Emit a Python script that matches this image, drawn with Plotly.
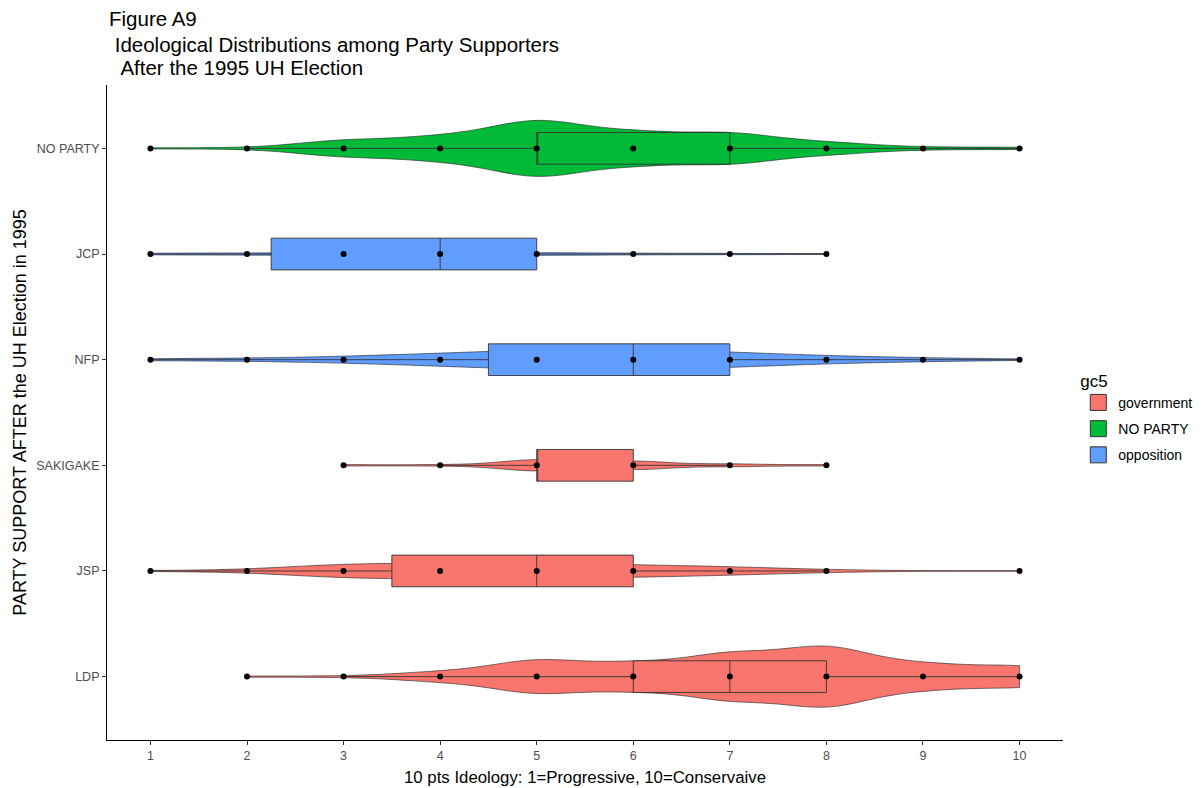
import numpy as np
import plotly.graph_objects as go

# ---------------- data ----------------
ideology = [1, 2, 3, 4, 5, 6, 7, 8, 9, 10]
parties = ["LDP", "JSP", "SAKIGAKE", "NFP", "JCP", "NO PARTY"]
party_group = ["government", "government", "government", "opposition", "opposition", "NO PARTY"]

# number of respondents at each ideology score (1..10)
ldp_counts = [0, 1, 1, 8, 28, 22, 38, 50, 20, 18]
jsp_counts = [1, 1, 13, 12, 12, 10, 7, 2, 0, 1]
sakigake_counts = [0, 0, 1, 1, 8, 6, 2, 1, 0, 0]
nfp_counts = [2, 2, 5, 10, 16, 18, 12, 6, 3, 1]
jcp_counts = [2, 2, 1, 4, 2, 1, 1, 1, 0, 0]
noparty_counts = [1, 1, 14, 19, 48, 26, 26, 10, 2, 2]

legend_groups = ["government", "NO PARTY", "opposition"]
group_colors = ["#F8766D", "#00BA38", "#619CFF"]

x_ticks = [1, 2, 3, 4, 5, 6, 7, 8, 9, 10]

title_lines = ["Figure A9", " Ideological Distributions among Party Supporters", "  After the 1995 UH Election"]
x_title = "10 pts Ideology: 1=Progressive, 10=Conservaive"
y_title = "PARTY SUPPORT AFTER the UH Election in 1995"

# ---------------- helpers ----------------
counts_by_party = dict(zip(parties, [ldp_counts, jsp_counts, sakigake_counts,
                                     nfp_counts, jcp_counts, noparty_counts]))
group_of = dict(zip(parties, party_group))
color_of = dict(zip(legend_groups, group_colors))


def samples(counts):
    return np.repeat(np.array(ideology, dtype=float), counts)


def nrd0(x):
    sd = np.std(x, ddof=1)
    q75, q25 = np.percentile(x, [75, 25])
    lo = min(sd, (q75 - q25) / 1.34)
    if lo <= 0:
        lo = sd if sd > 0 else 1.0
    return 0.9 * lo * len(x) ** (-0.2)


def count_density_peak(x, bw):
    grid = np.linspace(x.min(), x.max(), 512)
    d = np.exp(-0.5 * ((grid[:, None] - x[None, :]) / bw) ** 2).sum(axis=1)
    return (d / (bw * np.sqrt(2 * np.pi))).max()


def box_stats(x):
    q1, med, q3 = np.percentile(x, [25, 50, 75])  # R type 7
    iqr = q3 - q1
    lf = x[x >= q1 - 1.5 * iqr].min()
    uf = x[x <= q3 + 1.5 * iqr].max()
    return q1, med, q3, lf, uf


data = {}
for p in parties:
    x = samples(counts_by_party[p])
    bw = nrd0(x)
    data[p] = (x, bw, count_density_peak(x, bw))
max_peak = max(v[2] for v in data.values())
VIOLIN_FULL_WIDTH = 0.58

fig = go.Figure()

# violins (scaled by count, like ggplot scale="count")
for p in parties:
    x, bw, peak = data[p]
    g = group_of[p]
    fig.add_trace(go.Violin(
        x=x, y=[p] * len(x), orientation="h",
        name=g, legendgroup=g, showlegend=False,
        fillcolor=color_of[g], line=dict(color="rgba(30,30,30,0.85)", width=0.7),
        opacity=1, points=False, box_visible=False, meanline_visible=False,
        spanmode="hard", bandwidth=bw,
        scalemode="width", scalegroup=p,
        width=VIOLIN_FULL_WIDTH * peak / max_peak,
        hoverinfo="skip",
    ))

# boxplots (Tukey stats with R type-7 quartiles)
for g in legend_groups:
    ys, q1s, meds, q3s, lfs, ufs = [], [], [], [], [], []
    for p in parties:
        if group_of[p] == g:
            q1, med, q3, lf, uf = box_stats(data[p][0])
            ys.append(p); q1s.append(q1); meds.append(med); q3s.append(q3)
            lfs.append(lf); ufs.append(uf)
    fig.add_trace(go.Box(
        y=ys, q1=q1s, median=meds, q3=q3s, lowerfence=lfs, upperfence=ufs,
        orientation="h", name=g, legendgroup=g, showlegend=False,
        fillcolor=color_of[g], line=dict(color="#333333", width=0.9),
        whiskerwidth=0, width=0.3, boxpoints=False,
        hoverinfo="skip",
    ))

# points at each observed ideology value
px, py = [], []
for p in parties:
    for v, c in zip(ideology, counts_by_party[p]):
        if c > 0:
            px.append(v)
            py.append(p)
fig.add_trace(go.Scatter(x=px, y=py, mode="markers",
                         marker=dict(color="black", size=6),
                         showlegend=False, hoverinfo="skip"))

# legend entries
for g in legend_groups:
    fig.add_trace(go.Scatter(
        x=[None], y=[None], mode="markers", name=g, legendgroup=g,
        marker=dict(symbol="square", size=16, color=color_of[g],
                    line=dict(color="#333333", width=1)),
    ))

FONT = "Liberation Sans, Arial, sans-serif"

# title: three lines, leading spaces kept as non-breaking spaces
PLOT_TOP, PLOT_BOTTOM = 85, 740
title_y_px = [18, 44, 68]
annotations = []
for line, ypx in zip(title_lines, title_y_px):
    n_lead = len(line) - len(line.lstrip(" "))
    annotations.append(dict(
        text="\u00a0" * n_lead + line.lstrip(" "),
        xref="paper", x=0, xanchor="left",
        yref="paper", y=(PLOT_BOTTOM - ypx) / (PLOT_BOTTOM - PLOT_TOP), yanchor="middle",
        showarrow=False, font=dict(size=20.5, color="black", family=FONT),
    ))

fig.update_layout(
    width=1203, height=788, autosize=False,
    margin=dict(l=107, r=140, t=85, b=48, autoexpand=False),
    paper_bgcolor="white", plot_bgcolor="white",
    font=dict(family=FONT, color="black"),
    violinmode="overlay", boxmode="overlay",
    annotations=annotations,
    xaxis=dict(range=[0.55, 10.45], tickmode="array", tickvals=x_ticks,
               ticktext=[str(t) for t in x_ticks],
               ticks="outside", ticklen=4, tickcolor="#333333",
               showline=True, linecolor="black", linewidth=1,
               showgrid=False, zeroline=False,
               tickfont=dict(size=12.5, color="#4D4D4D", family=FONT),
               title=dict(text=x_title, font=dict(size=16.8, color="black", family=FONT), standoff=9)),
    yaxis=dict(type="category", categoryorder="array", categoryarray=parties,
               range=[-0.6, 5.6],
               ticks="outside", ticklen=4, tickcolor="#333333",
               showline=True, linecolor="black", linewidth=1,
               showgrid=False, zeroline=False,
               tickfont=dict(size=12.5, color="#4D4D4D", family=FONT),
               title=dict(text=y_title, font=dict(size=18, color="black", family=FONT), standoff=4)),
    legend=dict(x=1.016, xanchor="left", y=0.492, yanchor="middle",
                traceorder="grouped", tracegroupgap=5,
                title=dict(text="gc5", font=dict(size=17, color="black", family=FONT)),
                font=dict(size=14, color="black", family=FONT),
                bgcolor="rgba(0,0,0,0)"),
)

fig.write_html("out.html")
